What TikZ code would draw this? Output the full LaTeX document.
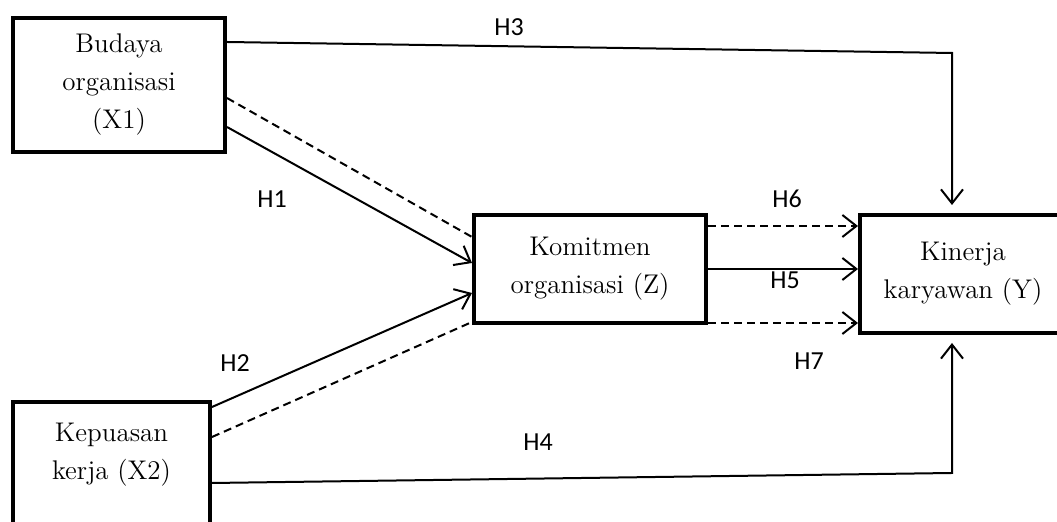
\documentclass[tikz,border=0pt]{standalone}
\usepackage{fontspec}
\newfontfamily\hypfont{Carlito}
\usetikzlibrary{arrows.meta}

\begin{document}
\begin{tikzpicture}[x=0.5pt,y=-0.5pt,>={Straight Barb[length=7pt,width=11pt]},
                    line width=1pt]
  \tikzstyle{var}=[rectangle,draw=black,line width=2pt,align=center,inner sep=0pt,
                   font=\fontsize{13.5}{19}\selectfont]
  \tikzstyle{hyp}=[font=\hypfont\fontsize{13}{15}\selectfont]
  \tikzstyle{dline}=[dash pattern=on 4pt off 2.5pt]

  \useasboundingbox (0,0) rectangle (1057,522);

  \node[var, minimum width=106pt, minimum height=67pt]   (X1) at (119,85)    {Budaya\\organisasi\\(X1)};
  \node[var, minimum width=98.5pt, minimum height=74pt]  (X2) at (111.5,476) {Kepuasan\\kerja (X2)\\\strut};
  \node[var, minimum width=116pt, minimum height=54pt]   (Z)  at (590,269)   {Komitmen\\organisasi (Z)};
  \node[var, minimum width=103pt, minimum height=59pt]   (Y)  at (963,274)   {Kinerja\\karyawan (Y)};

  \coordinate (h3) at (952,53);
  \coordinate (h4) at (952,473);

  \path[->]
([yshift=-21pt]X1.east)   edge      []        ([yshift=3pt]Z.west)
([yshift=34.5pt]X2.east)  edge      []        ([yshift=-12pt]Z.west)
(Z.east)                  edge      []        (Z.east -| Y.west)
([yshift=21.5pt]Z.east)   edge      [dline]   ([yshift=21.5pt]Z.east -| Y.west)
([yshift=-27pt]Z.east)    edge      [dline]   ([yshift=-27pt]Z.east -| Y.west);

  \path %(dashed, no tips)
([yshift=-6.5pt]X1.east)  edge      [dline]   ([yshift=16pt]Z.west)
([yshift=19.5pt]X2.east)  edge      [dline]   ([yshift=-26.5pt]Z.west);

  \draw[->, shorten >=4pt] ([yshift=21.5pt]X1.east) -- (h3) -- (h3 |- Y.north);
  \draw[->, shorten >=4pt] ([yshift=-3.5pt]X2.east) -- (h4) -- (h4 |- Y.south);

  \node[hyp] (l3) at (509,27)  {H3};
  \node[hyp] (l1) at (272,199) {H1};
  \node[hyp] (l6) at (787,199) {H6};
  \node[hyp] (l5) at (785,280) {H5};
  \node[hyp] (l2) at (235,363) {H2};
  \node[hyp] (l7) at (809,361) {H7};
  \node[hyp] (l4) at (538,442) {H4};
\end{tikzpicture}
\end{document}
